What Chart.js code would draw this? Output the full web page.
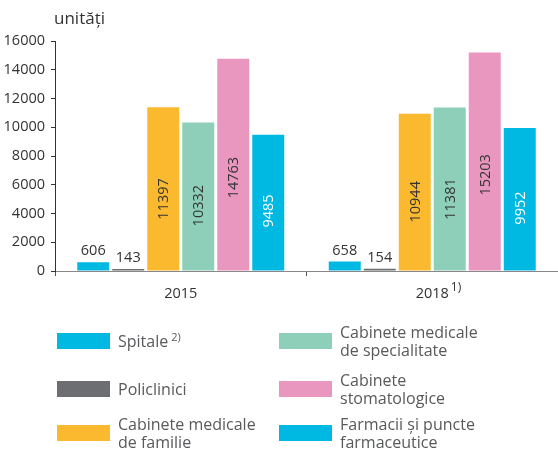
<!DOCTYPE html>
<html>
<head>
<meta charset="utf-8">
<script src="https://cdn.jsdelivr.net/npm/chart.js@4"></script>
<style>
  body { margin: 0; background: #fff; }
  #wrap { position: relative; width: 558px; height: 450px; }
  #legend { position: absolute; left: 0; top: 0; width: 558px; height: 450px; pointer-events: none;
    font-family: "Open Sans", sans-serif; font-size: 16px; line-height: 18px; color: #58595b; }
  .item { position: absolute; display: flex; align-items: center; height: 40px; }
  .box { width: 53px; height: 16px; margin-right: 8px; flex: none; }
  .item sup { font-size: 11px; vertical-align: 6px; line-height: 0; margin-left: 3px; }
</style>
</head>
<body>
<div id="wrap">
  <canvas id="chart" width="558" height="450"></canvas>
  <div id="legend"></div>
</div>
<script>
const years = ['2015', '2018'];
const yearNotes = ['', '1)'];
const seriesNames = ['Spitale', 'Policlinici', 'Cabinete medicale de familie',
  'Cabinete medicale de specialitate', 'Cabinete stomatologice', 'Farmacii și puncte farmaceutice'];
const legendLines = [['Spitale'], ['Policlinici'], ['Cabinete medicale', 'de familie'],
  ['Cabinete medicale', 'de specialitate'], ['Cabinete', 'stomatologice'], ['Farmacii și puncte', 'farmaceutice']];
const legendNotes = ['2)', '', '', '', '', ''];
const spitale = [606, 658];
const policlinici = [143, 154];
const cabFamilie = [11397, 10944];
const cabSpecialitate = [10332, 11381];
const cabStomato = [14763, 15203];
const farmacii = [9485, 9952];
const yTicks = [0, 2000, 4000, 6000, 8000, 10000, 12000, 14000, 16000];

const colors = ['#00b9e3', '#6d6e71', '#fbb92f', '#8dcfb9', '#ea97c0', '#00b9e3'];
const inkColors = ['#ffffff', '#ffffff', '#333333', '#333333', '#333333', '#ffffff'];
const numFont = '"Open Sans", sans-serif';
const numSize = 14.5;

const allValues = [spitale, policlinici, cabFamilie, cabSpecialitate, cabStomato, farmacii];

const valueLabels = {
  id: 'valueLabels',
  afterDatasetsDraw(chart) {
    const ctx = chart.ctx;
    const y = chart.scales.y;
    ctx.save();
    ctx.font = numSize + 'px ' + numFont;
    chart.data.datasets.forEach((ds, di) => {
      chart.getDatasetMeta(di).data.forEach((bar, i) => {
        const v = ds.data[i];
        if (v > 2000) {
          ctx.save();
          ctx.translate(bar.x, y.getPixelForValue(v * 0.44));
          ctx.rotate(-Math.PI / 2);
          ctx.fillStyle = inkColors[di];
          ctx.textAlign = 'center';
          ctx.textBaseline = 'middle';
          ctx.fillText(v, 0, 1);
          ctx.restore();
        } else {
          ctx.fillStyle = '#333333';
          ctx.textAlign = 'center';
          ctx.textBaseline = 'alphabetic';
          ctx.fillText(v, bar.x, bar.y - 7);
        }
      });
    });
    ctx.restore();
  }
};

const extras = {
  id: 'extras',
  afterDraw(chart) {
    const ctx = chart.ctx;
    const x = chart.scales.x;
    const area = chart.chartArea;
    ctx.save();
    ctx.fillStyle = '#333333';
    ctx.font = '17px "Open Sans", sans-serif';
    ctx.textAlign = 'left';
    ctx.textBaseline = 'alphabetic';
    ctx.fillText('unități', 54, 24);
    years.forEach((yr, i) => {
      if (!yearNotes[i]) return;
      ctx.font = numSize + 'px ' + numFont;
      const w = ctx.measureText(yr).width;
      const cx = x.getPixelForValue(i);
      ctx.font = '12px ' + numFont;
      ctx.fillText(yearNotes[i], cx + w / 2 + 2, area.bottom + 20);
    });
    ctx.restore();
  }
};

new Chart(document.getElementById('chart'), {
  type: 'bar',
  data: {
    labels: years,
    datasets: seriesNames.map((name, i) => ({
      label: name,
      data: allValues[i],
      backgroundColor: colors[i],
      borderWidth: 0,
      barPercentage: 0.914,
      categoryPercentage: 0.835
    }))
  },
  options: {
    responsive: false,
    animation: false,
    layout: { padding: { top: 41, bottom: 149, left: 0, right: 0 } },
    plugins: { legend: { display: false }, tooltip: { enabled: false } },
    scales: {
      x: {
        afterFit(s) { s.height = 30; },
        grid: { drawOnChartArea: false, tickLength: 5, color: '#555555' },
        border: { color: '#888888', width: 1 },
        ticks: { color: '#333333', padding: 9, font: { family: numFont, size: numSize } }
      },
      y: {
        min: 0, max: 16000,
        afterFit(s) { s.width = 55; },
        afterBuildTicks(s) { s.ticks = yTicks.map(v => ({ value: v })); },
        grid: { drawOnChartArea: false, tickLength: 4, color: '#333333' },
        border: { color: '#333333', width: 1 },
        ticks: { color: '#333333', padding: 6, font: { family: numFont, size: numSize },
          callback: v => String(v) }
      }
    }
  },
  plugins: [valueLabels, extras]
});

// legend in two columns, like the print version
const legend = document.getElementById('legend');
const cols = [57, 279];
const rowCenters = [341, 389, 433];
seriesNames.forEach((name, i) => {
  const col = i < 3 ? 0 : 1;
  const row = i % 3;
  const item = document.createElement('div');
  item.className = 'item';
  item.style.left = cols[col] + 'px';
  item.style.top = (rowCenters[row] - 20) + 'px';
  const box = document.createElement('div');
  box.className = 'box';
  box.style.background = colors[i];
  const txt = document.createElement('div');
  txt.innerHTML = legendLines[i].join('<br>') + (legendNotes[i] ? '<sup>' + legendNotes[i] + '</sup>' : '');
  item.appendChild(box);
  item.appendChild(txt);
  legend.appendChild(item);
});
</script>
</body>
</html>
